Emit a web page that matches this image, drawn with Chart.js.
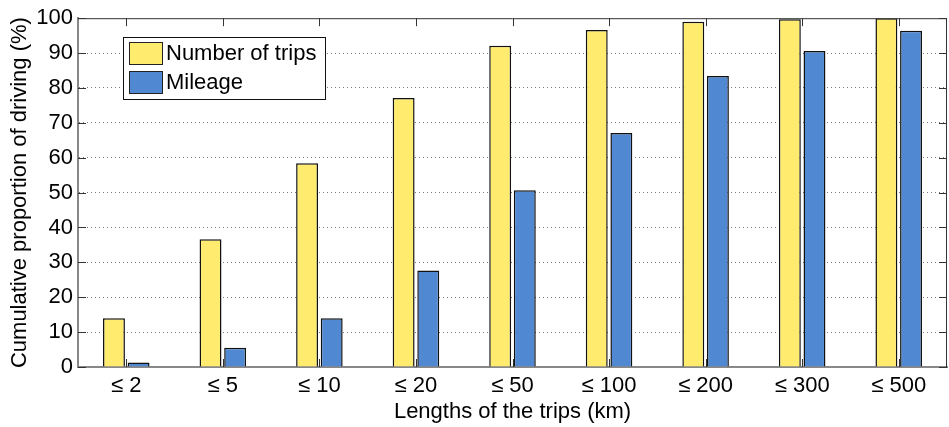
<!DOCTYPE html>
<html>
<head>
<meta charset="utf-8">
<script src="https://cdn.jsdelivr.net/npm/chart.js@4"></script>
<style>
  html, body { margin: 0; padding: 0; background: #fff; }
  #wrap { width: 949px; height: 427px; }
</style>
</head>
<body>
<div id="wrap"><canvas id="tripsChart" width="949" height="427"></canvas></div>
<script>
// trip length classes (km)
const categories = ['≤ 2', '≤ 5', '≤ 10', '≤ 20', '≤ 50', '≤ 100', '≤ 200', '≤ 300', '≤ 500'];
// cumulative share of trips (%)
const tripShare = [14, 36.6, 58.4, 77.1, 92.1, 96.6, 99.0, 99.7, 100];
// cumulative share of mileage (%)
const mileageShare = [1.3, 5.5, 14.0, 27.7, 50.7, 67.1, 83.4, 90.6, 96.4];
const yTicks = [0, 10, 20, 30, 40, 50, 60, 70, 80, 90, 100];

const FONT = '"Liberation Sans", Arial, Helvetica, sans-serif';

// inner tick marks, top/right frame and the legend box
const framePlugin = {
    id: 'frame',
    afterDraw(chart) {
        const ctx = chart.ctx;
        const a = chart.chartArea;
        const x = chart.scales.x;
        const y = chart.scales.y;
        ctx.save();
        ctx.strokeStyle = '#333';
        ctx.lineWidth = 1;
        ctx.beginPath();
        ctx.moveTo(a.left, a.top + 0.5);
        ctx.lineTo(a.right, a.top + 0.5);
        ctx.moveTo(a.right - 0.5, a.top);
        ctx.lineTo(a.right - 0.5, a.bottom);
        y.ticks.forEach(t => {
            const py = Math.round(y.getPixelForValue(t.value)) + 0.5;
            ctx.moveTo(a.left, py); ctx.lineTo(a.left + 8, py);
            ctx.moveTo(a.right, py); ctx.lineTo(a.right - 8, py);
        });
        categories.forEach((c, i) => {
            const px = Math.round(x.getPixelForValue(i)) + 0.5;
            ctx.moveTo(px, a.bottom); ctx.lineTo(px, a.bottom - 8);
            ctx.moveTo(px, a.top); ctx.lineTo(px, a.top + 8);
        });
        ctx.stroke();

        // legend
        const lx = 123, ly = 37, lw = 202, lh = 62;
        ctx.fillStyle = '#fff';
        ctx.fillRect(lx, ly, lw, lh);
        ctx.strokeStyle = '#111';
        ctx.strokeRect(lx + 0.5, ly + 0.5, lw, lh);
        ctx.font = '22px ' + FONT;
        ctx.textBaseline = 'middle';
        chart.data.datasets.forEach((ds, i) => {
            const sy = 42 + i * 29;
            ctx.fillStyle = ds.backgroundColor;
            ctx.fillRect(129, sy, 33, 22);
            ctx.strokeStyle = '#222';
            ctx.strokeRect(129.5, sy + 0.5, 33, 22);
            ctx.fillStyle = '#000';
            ctx.fillText(ds.label, 166, sy + 12);
        });
        ctx.restore();
    }
};

new Chart(document.getElementById('tripsChart'), {
    type: 'bar',
    data: {
        labels: categories,
        datasets: [{
            label: 'Number of trips',
            data: tripShare,
            backgroundColor: '#FFEB6E',
            borderColor: '#111',
            borderWidth: 1.5,
            categoryPercentage: 0.51,
            barPercentage: 0.89
        }, {
            label: 'Mileage',
            data: mileageShare,
            backgroundColor: '#5089D2',
            borderColor: '#111',
            borderWidth: 1.5,
            categoryPercentage: 0.51,
            barPercentage: 0.89
        }]
    },
    options: {
        responsive: false,
        animation: false,
        layout: { padding: { top: 18, right: 2, left: 0, bottom: 0 } },
        plugins: {
            legend: { display: false },
            tooltip: { enabled: false }
        },
        scales: {
            x: {
                grid: { display: false, drawTicks: false },
                border: { color: '#888', width: 2 },
                ticks: { color: '#000', font: { family: FONT, size: 22 }, padding: 6, maxRotation: 0 },
                title: { display: true, text: 'Lengths of the trips (km)', color: '#000', font: { family: FONT, size: 22 }, padding: { top: 0, bottom: 2 } },
                afterFit(scale) { scale.height = 60; }
            },
            y: {
                min: 0,
                max: 100,
                afterBuildTicks(scale) { scale.ticks = yTicks.map(v => ({ value: v })); },
                grid: {
                    drawTicks: false,
                    color: ctx => (ctx.tick && (ctx.tick.value === 0 || ctx.tick.value === 100)) ? 'rgba(0,0,0,0)' : '#777',
                    lineWidth: 1
                },
                border: { color: '#888', width: 2, dash: [1, 3] },
                ticks: { color: '#000', font: { family: FONT, size: 22 }, padding: 5 },
                title: { display: true, text: 'Cumulative proportion of driving (%)', color: '#000', font: { family: FONT, size: 22 }, padding: { top: 7, bottom: 0 } },
                afterFit(scale) { scale.width = 78; }
            }
        }
    },
    plugins: [framePlugin]
});
</script>
</body>
</html>
